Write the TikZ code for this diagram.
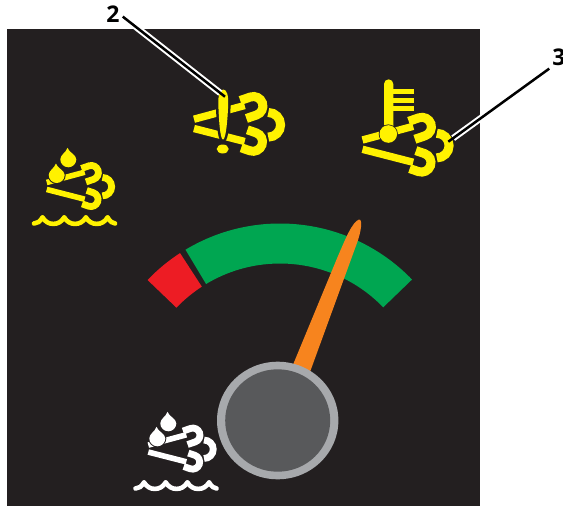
\documentclass[tikz,border=0pt]{standalone}
\usepackage{fontspec}
\setsansfont{Open Sans}
\definecolor{panelgray}{HTML}{231F20}
\definecolor{signyellow}{HTML}{FFF200}
\definecolor{gaugegreen}{HTML}{00A651}
\definecolor{gaugered}{HTML}{ED1C24}
\definecolor{needleorange}{HTML}{F7841E}
\definecolor{hubrim}{HTML}{A7A9AC}
\definecolor{hubface}{HTML}{58595B}
\tikzset{
    calloutnum/.style={font=\sffamily\bfseries\fontsize{23}{23}\selectfont, inner sep=3pt},
    gapedge/.style={preaction={draw=panelgray, line width=#1}},
    pics/coolant/.style 2 args={code={
        % pipes
        \draw[color=#1, line width=#2pt] (0,-4.3) -- (50.7,-18);
        \draw[color=#1, line width=#2pt] (0,5) -- (50.7,18);
        % bends
        \foreach \x/\y/\a/\l/\r in {49.3/-14/19/10.7/9.5, 50.3/15.3/-19/9.2/9.5, 74.3/1.3/0/0/12.3} {
            \draw[color=#1, line width=1.22*#2pt, shift={(\x,\y)}, rotate=\a]
                (0,-\r) -- (\l,-\r) arc[start angle=-90, end angle=90, radius=\r] -- (0,\r);
        }
    }},
    pics/droplet/.style={code={
        \fill[color=#1, gapedge=2pt] (-0.8,-11.5) .. controls (0.5,-7) and (8,-4.5) .. (8,0)
            arc[start angle=0, end angle=180, radius=8] .. controls (-8,-4.5) and (-2,-7) .. (-0.8,-11.5) -- cycle;
    }},
    pics/ripple/.style={code={
        \draw[color=#1, line width=4.6pt, line cap=round] (1.5,8) .. controls (5,8) and (7.5,6) .. (10,2);
        \foreach \x in {10,31.7,53.4} {
            \draw[color=#1, line width=4.6pt, line cap=round] (\x,2) .. controls (\x+3,6.5) and (\x+6.5,8.4) .. (\x+10.85,8.4)
                .. controls (\x+15.2,8.4) and (\x+18.7,6.5) .. (\x+21.7,2);
        }
        \draw[color=#1, line width=4.6pt, line cap=round] (75.1,2) .. controls (77.6,6) and (80,8) .. (82.6,8);
    }}
}
\begin{document}
\begin{tikzpicture}[x=1pt, y=-1pt]
    \useasboundingbox (0,0) rectangle (563,506);

    % fill in panel
    \fill[color=panelgray] (7,29) rectangle (480,506);

    % draw dial sectors
    \fill[color=gaugegreen] (280,407) ++(-44:183.5) arc[start angle=-44, end angle=-121, radius=183.5]
        -- ++(-121+180:40) arc[start angle=-121, end angle=-44, radius=143.5] -- cycle;
    \fill[color=gaugered] (280,407) ++(-123:183.5) arc[start angle=-123, end angle=-136.2, radius=183.5]
        -- ++(-136.2+180:40) arc[start angle=-136.2, end angle=-123, radius=143.5] -- cycle;

    % draw warning signs
    \pic at (194,123.5) {coolant={signyellow}{7.4}};
    \pic at (362.5,144.3) {coolant={signyellow}{7.4}};
    \pic[scale=0.75] at (46.7,185.7) {coolant={signyellow}{5.6}};
    \pic[scale=0.75] at (148.3,448.3) {coolant={white}{5.6}};

    % exclamation mark
    \fill[color=signyellow, gapedge=5pt] (223.3,89.5) .. controls (226.5,89.5) and (228.6,95) .. (228.2,104)
        .. controls (227.7,118) and (226,139.5) .. (223,139.5) .. controls (220,139.5) and (218.8,118) .. (218.3,104)
        .. controls (218,95) and (220.2,89.5) .. (223.3,89.5) -- cycle;
    \fill[color=signyellow] (222.7,149) ellipse (6 and 4.5);

    % thermometer
    \fill[color=signyellow] (384,134) rectangle (393.3,84) arc[start angle=0, end angle=-180, radius=4.65];
    \fill[color=signyellow, gapedge=1.5pt] (388.3,134) circle (8.8);
    \foreach \y in {91,100,108.7} {
        \draw[color=signyellow, line width=5pt] (392,\y) -- (414,\y);
    }

    % droplets and ripples
    \pic at (68.3,159.3) {droplet=signyellow};
    \pic at (56.7,175) {droplet=signyellow};
    \pic at (168.3,423.3) {droplet=white};
    \pic at (157.3,438.3) {droplet=white};
    \pic at (32.5,215.5) {ripple=signyellow};
    \pic at (134,480.5) {ripple=white};

    % draw needle and hub
    \fill[color=needleorange] (293.3,364) -- (338,256) .. controls (345,240) and (352,222) .. (359,219.5)
        .. controls (363,219) and (361,232) .. (357,243) -- (310,372) -- cycle;
    \fill[color=hubrim] (277.7,420.5) ellipse (60.7 and 58.8);
    \fill[color=hubface] (277.7,420.5) ellipse (52.5 and 51.2);

    % callouts
    \node[calloutnum] (numtwo) at (113,14) {2};
    \node[calloutnum] (numthree) at (559,57) {3};
    \coordinate (tiptwo) at (225,96.7);
    \coordinate (tipthree) at (448.3,141.7);
    \draw[color=white, line width=6.5pt, shorten >=6pt] (numtwo.-15) -- (tiptwo);
    \draw[color=black, line width=2.5pt] (numtwo.-15) -- (tiptwo);
    \draw[color=white, line width=6.5pt, shorten >=6pt] (numthree.south west) -- (tipthree);
    \draw[color=black, line width=2.5pt] (numthree.south west) -- (tipthree);
\end{tikzpicture}
\end{document}
